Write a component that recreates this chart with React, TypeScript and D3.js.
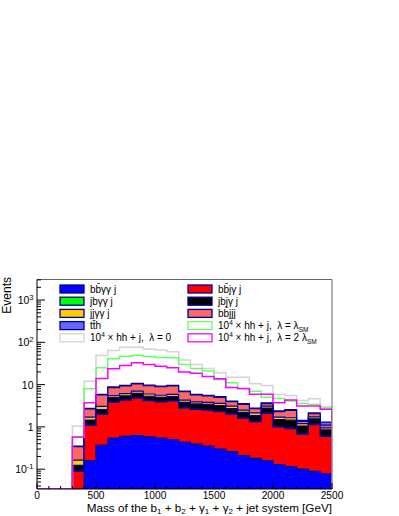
import React, { useEffect, useRef } from 'react'
import * as d3 from 'd3'

// lower bin edges in GeV (100 GeV bins, 300 .. 2400)
const binEdges = [300, 400, 500, 600, 700, 800, 900, 1000, 1100, 1200, 1300, 1400, 1500, 1600, 1700, 1800, 1900, 2000, 2100, 2200, 2300, 2400]

// stacked backgrounds, bottom to top
const bbyyj = [0, 0.16, 0.37, 0.54, 0.6, 0.62, 0.58, 0.54, 0.5, 0.44, 0.39, 0.35, 0.3, 0.26, 0.21, 0.18, 0.16, 0.128, 0.115, 0.1, 0.089, 0.078]
const bbjyj = [0.089, 0.94, 1.63, 3.26, 3.7, 4.18, 3.62, 3.36, 3.6, 2.36, 2.21, 2.1, 2.0, 1.74, 1.39, 1.15, 1.94, 0.87, 0.8, 0.57, 1.04, 0.52]
const jbyyj = [0.004, 0.03, 0.05, 0.1, 0.11, 0.13, 0.11, 0.1, 0.11, 0.08, 0.07, 0.07, 0.06, 0.05, 0.04, 0.04, 0.06, 0.03, 0.03, 0.02, 0.03, 0.02]
const jbjyj = [0.03, 0.32, 0.5, 1.0, 0.99, 1.27, 0.99, 1.0, 0.99, 0.92, 0.83, 0.88, 0.84, 0.65, 0.56, 0.48, 0.64, 0.47, 0.5, 0.36, 0.39, 0.23]
const jjyyj = [0.04, 0.25, 0.5, 0.6, 0.7, 0.8, 0.7, 0.6, 0.7, 0.5, 0.4, 0.4, 0.4, 0.4, 0.3, 0.3, 0.3, 0.2, 0.2, 0.15, 0.18, 0.1]
const bbjjj = [0.177, 0.95, 2.65, 3.0, 3.2, 3.4, 3.4, 3.3, 3.4, 2.5, 1.8, 1.6, 1.4, 0.85, 0.9, 0.55, 0.45, 0.6, 0.8, 0.15, 0.32, 0.15]
const tth = [0.01, 0.1, 0.2, 0.3, 0.3, 0.3, 0.3, 0.3, 0.3, 0.2, 0.15, 0.2, 0.2, 0.15, 0.15, 0.1, 0.15, 0.1, 0.12, 0.07, 0.09, 0.2]

// signal (x 10^4), not stacked
const hhLambda0 = [1.05, 12, 49, 64, 77, 76, 70, 66, 60, 38, 30, 24, 19, 15, 15, 10.5, 9.5, 5.8, 5.5, 4.2, 4.6, 3.0]
const hhLambdaSM = [0.58, 8, 25, 41, 47, 49, 46, 44, 43, 30, 24, 21, 13, 11, 8, 7, 5, 4.7, 4.1, 3.6, 3.4, 2.8]
const hhLambda2SM = [0.58, 3.7, 14, 23.6, 28.5, 33, 30, 27, 25, 20, 18.5, 15.5, 13.7, 8.5, 8.1, 5.9, 5.9, 3.7, 4.3, 3.1, 3.1, 2.6]

const xTicks = [0, 500, 1000, 1500, 2000, 2500]
const yTicks = [0.1, 1, 10, 100, 1000]
const yTickLabels = [['10', '-1'], ['1', ''], ['10', ''], ['10', '2'], ['10', '3']]

const stackSeries = [bbyyj, bbjyj, jbyyj, jbjyj, jjyyj, bbjjj, tth]
const stackColors = ['#0000ff', '#ff0000', '#00ff00', '#000000', '#ffcc00', '#ff6666', '#6666ff']
const outline = '#000099'

type Seg = { t: string; sup?: boolean; sub?: boolean }
type Entry = { label: Seg[]; fill: string; stroke: string }

const legendLeft: Entry[] = [
  { label: [{ t: 'bb\u0304\u03b3\u03b3 j' }], fill: '#0000ff', stroke: outline },
  { label: [{ t: 'jb\u03b3\u03b3 j' }], fill: '#00ff00', stroke: outline },
  { label: [{ t: 'jj\u03b3\u03b3 j' }], fill: '#ffcc00', stroke: outline },
  { label: [{ t: 'tt\u0304h' }], fill: '#6666ff', stroke: outline },
  { label: [{ t: '10' }, { t: '4', sup: true }, { t: ' \u00d7 hh + j,  \u03bb = 0' }], fill: '#ffffff', stroke: '#d4d4d4' },
]
const legendRight: Entry[] = [
  { label: [{ t: 'bb\u0304j\u03b3 j' }], fill: '#ff0000', stroke: outline },
  { label: [{ t: 'jbj\u03b3 j' }], fill: '#000000', stroke: outline },
  { label: [{ t: 'bb\u0304jjj' }], fill: '#ff6666', stroke: outline },
  { label: [{ t: '10' }, { t: '4', sup: true }, { t: ' \u00d7 hh + j,  \u03bb = \u03bb' }, { t: 'SM', sub: true }], fill: '#ffffff', stroke: '#66ff66' },
  { label: [{ t: '10' }, { t: '4', sup: true }, { t: ' \u00d7 hh + j,  \u03bb = 2 \u03bb' }, { t: 'SM', sub: true }], fill: '#ffffff', stroke: '#ff00ff' },
]

const App = () => {
  const svgRef = useRef<SVGSVGElement>(null)

  useEffect(() => {
    const width = 399
    const height = 516
    const left = 37
    const right = 332
    const top = 279.5
    const bottom = 489
    const font = '"Liberation Sans", Arial, sans-serif'

    const x = d3.scaleLinear().domain([0, 2500]).range([left, right])
    const y = d3.scaleLog().domain([0.034, 3060]).range([bottom, top])
    const yMin = y.domain()[0]

    const svg = d3.select(svgRef.current)
    svg.selectAll('*').remove()
    svg.attr('width', width).attr('height', height).attr('viewBox', [0, 0, width, height])

    svg.append('rect').attr('width', width).attr('height', height).attr('fill', '#fff')

    svg.append('clipPath').attr('id', 'plot-clip')
      .append('rect').attr('x', left).attr('y', top).attr('width', right - left).attr('height', bottom - top)

    const stepPath = (vals: number[], closed: boolean) => {
      const yv = (v: number) => y(Math.max(v, yMin))
      let d = `M${x(0)},${y(yMin)}L${x(binEdges[0])},${y(yMin)}`
      vals.forEach((v, i) => {
        d += `L${x(binEdges[i])},${yv(v)}L${x(binEdges[i] + 100)},${yv(v)}`
      })
      d += `L${x(2500)},${y(yMin)}`
      if (closed) d += 'Z'
      return d
    }

    const plot = svg.append('g').attr('clip-path', 'url(#plot-clip)')

    // cumulative stack, drawn from the tallest down
    const cumulative: number[][] = []
    stackSeries.forEach((s, k) => {
      cumulative.push(s.map((v, i) => v + (k > 0 ? cumulative[k - 1][i] : 0)))
    })
    for (let k = cumulative.length - 1; k >= 0; k--) {
      plot.append('path')
        .attr('d', stepPath(cumulative[k], true))
        .attr('fill', stackColors[k])
        .attr('stroke', outline)
        .attr('stroke-width', 1.2)
    }

    // signal lines
    const lines: [number[], string][] = [
      [hhLambda0, '#d4d4d4'],
      [hhLambdaSM, '#66ff66'],
      [hhLambda2SM, '#ff00ff'],
    ]
    lines.forEach(([vals, color]) => {
      plot.append('path')
        .attr('d', stepPath(vals, false))
        .attr('fill', 'none')
        .attr('stroke', color)
        .attr('stroke-width', 1.5)
    })

    // frame
    svg.append('path')
      .attr('d', `M${left},${top}H${right}V${bottom}`)
      .attr('fill', 'none').attr('stroke', '#666').attr('stroke-width', 1)
    svg.append('path')
      .attr('d', `M${left},${top}V${bottom}H${right}`)
      .attr('fill', 'none').attr('stroke', '#000').attr('stroke-width', 1)

    // x ticks
    const axes = svg.append('g').attr('stroke', '#000').attr('stroke-width', 1)
    d3.range(0, 2501, 100).forEach((v) => {
      const len = v % 500 === 0 ? 6 : 3
      axes.append('line').attr('x1', x(v)).attr('x2', x(v)).attr('y1', bottom).attr('y2', bottom - len)
    })
    xTicks.forEach((v) => {
      svg.append('text')
        .attr('x', x(v)).attr('y', bottom + 10)
        .attr('text-anchor', 'middle')
        .attr('font-family', font).attr('font-size', 10.2)
        .text(v)
    })

    // y ticks
    for (let e = -2; e <= 3; e++) {
      for (let m = 1; m <= 9; m++) {
        const v = m * Math.pow(10, e)
        if (v < yMin || v > y.domain()[1]) continue
        const len = m === 1 ? 8 : 4
        axes.append('line').attr('x1', left).attr('x2', left + len).attr('y1', y(v)).attr('y2', y(v))
      }
    }
    yTicks.forEach((v, i) => {
      const [base, exp] = yTickLabels[i]
      const t = svg.append('text')
        .attr('x', 33.5).attr('y', y(v) + 4)
        .attr('text-anchor', 'end')
        .attr('font-family', font).attr('font-size', 10.5)
      t.append('tspan').text(base)
      if (exp) t.append('tspan').attr('dy', -4.5).attr('font-size', 7.5).text(exp)
    })

    // axis titles
    const xt = svg.append('text')
      .attr('x', right).attr('y', 511.5)
      .attr('text-anchor', 'end')
      .attr('font-family', font).attr('font-size', 11.7)
    const xParts: Seg[] = [
      { t: 'Mass of the b' }, { t: '1', sub: true }, { t: ' + b' }, { t: '2', sub: true },
      { t: ' + \u03b3' }, { t: '1', sub: true }, { t: ' + \u03b3' }, { t: '2', sub: true },
      { t: ' + jet system [GeV]' },
    ]
    let shift = 0
    xParts.forEach((p) => {
      const target = p.sub ? 2.5 : 0
      xt.append('tspan').attr('dy', target - shift).attr('font-size', p.sub ? 8 : 11.7).text(p.t)
      shift = target
    })

    svg.append('text')
      .attr('transform', `translate(11,277) rotate(-90)`)
      .attr('text-anchor', 'end')
      .attr('font-family', font).attr('font-size', 12)
      .text('Events')

    // legend
    const rowY = [289, 301.2, 313.4, 325.6, 337.8]
    const drawLegend = (entries: Entry[], bx: number) => {
      entries.forEach((en, i) => {
        const cy = rowY[i]
        svg.append('rect')
          .attr('x', bx).attr('y', cy - 4).attr('width', 24).attr('height', 8)
          .attr('fill', en.fill).attr('stroke', en.stroke).attr('stroke-width', 1.3)
        const t = svg.append('text')
          .attr('x', bx + 30).attr('y', cy + 3.5)
          .attr('font-family', font).attr('font-size', 10)
          .style('white-space', 'pre')
        let sh = 0
        en.label.forEach((p) => {
          const target = p.sup ? -4 : p.sub ? 3 : 0
          t.append('tspan').attr('dy', target - sh).attr('font-size', p.sup || p.sub ? 6.5 : 10).text(p.t)
          sh = target
        })
      })
    }
    drawLegend(legendLeft, 60)
    drawLegend(legendRight, 188)
  }, [])

  return <svg ref={svgRef} style={{ position: 'absolute', left: 0, top: 0 }}></svg>
}

export default App
